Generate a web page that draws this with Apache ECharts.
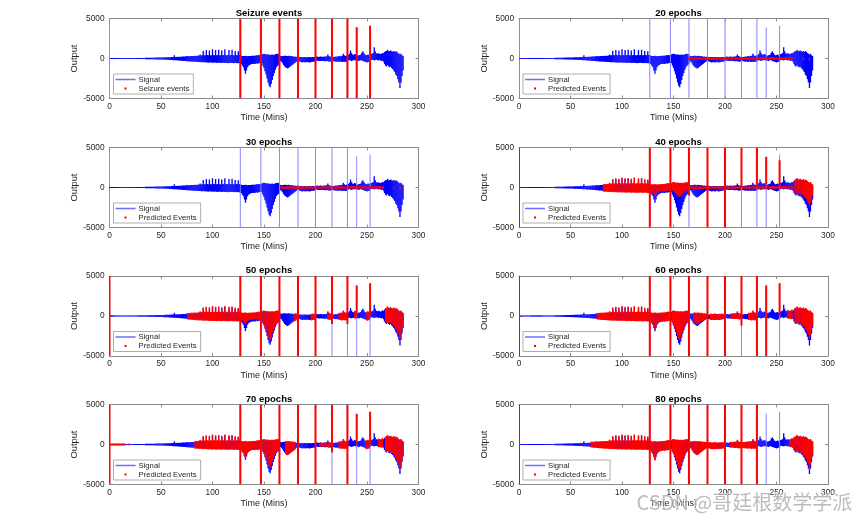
<!DOCTYPE html>
<html>
<head>
<meta charset="utf-8">
<script src="https://cdn.jsdelivr.net/npm/echarts@6/dist/echarts.min.js"></script>
<style>html,body{margin:0;padding:0;background:#fff}#c{width:865px;height:524px}</style>
</head>
<body>
<div id="c"></div>
<script>
// ---------- DATA ----------
const panelTitles = ['Seizure events','20 epochs','30 epochs','40 epochs','50 epochs','60 epochs','70 epochs','80 epochs'];
const eventNames = ['Seizure events','Predicted Events','Predicted Events','Predicted Events','Predicted Events','Predicted Events','Predicted Events','Predicted Events'];
const xTicks = [0, 50, 100, 150, 200, 250, 300];
const yTicks = [-5000, 0, 5000];

// signal envelope, one value per minute, t = 0..285
const sigHi = [
 50,40,40,40,40,40,40,40,40,40,
 40,45,40,45,40,45,40,45,40,45,
 50,55,50,55,60,55,60,60,65,60,
 65,70,70,75,70,80,80,85,80,90,
 90,95,100,100,110,105,115,120,115,125,
 130,135,140,140,150,150,160,165,160,170,
 180,175,190,400,190,200,210,200,220,230,
 230,240,250,240,260,300,270,280,290,300,
 310,300,320,330,320,340,350,360,500,380,
 400,950,420,400,1050,430,410,1000,420,400,
 1150,430,420,1050,400,430,1100,420,410,1000,
 420,430,1150,400,420,440,1050,410,430,1100,
 420,400,950,430,410,900,440,450,350,300,
 300,320,350,300,280,300,320,300,330,350,
 330,350,380,400,420,450,400,450,500,550,
 600,550,500,520,480,500,450,480,500,450,
 480,520,550,600,550,500,300,280,300,320,
 350,330,300,320,350,300,280,300,250,230,
 250,200,220,250,150,180,200,160,150,180,
 200,170,150,160,180,150,170,200,180,150,
 200,220,250,200,230,250,220,200,250,230,
 250,280,500,300,250,200,220,180,200,220,
 250,230,280,300,250,350,300,600,400,300,
 350,400,450,600,1000,700,500,450,550,500,
 400,350,400,450,500,750,900,700,500,400,
 450,500,400,500,550,600,700,1400,900,650,
 600,650,600,550,600,700,650,800,900,950,
 1100,900,950,1000,900,850,950,800,900,850,
 700,600,500,600,400,300
];
const sigLo = [
 -50,-40,-40,-40,-40,-40,-40,-40,-40,-40,
 -40,-45,-40,-45,-40,-45,-40,-45,-40,-45,
 -50,-55,-50,-55,-60,-55,-60,-60,-65,-60,
 -65,-70,-70,-75,-70,-80,-80,-85,-80,-90,
 -90,-95,-100,-100,-110,-105,-115,-120,-115,-125,
 -130,-140,-140,-150,-150,-160,-170,-170,-180,-190,
 -190,-200,-210,-220,-220,-230,-240,-250,-260,-270,
 -280,-290,-300,-300,-320,-350,-330,-340,-360,-380,
 -380,-400,-390,-420,-400,-430,-440,-450,-430,-460,
 -460,-480,-450,-500,-470,-490,-520,-480,-500,-510,
 -520,-500,-540,-510,-530,-550,-500,-540,-520,-560,
 -540,-520,-560,-530,-550,-580,-540,-560,-530,-570,
 -550,-580,-540,-560,-600,-570,-600,-650,-700,-900,
 -1100,-1500,-1900,-1500,-1100,-900,-800,-750,-700,-700,
 -650,-700,-650,-600,-650,-600,-550,-500,-600,-900,
 -1200,-1600,-2000,-2500,-3000,-3400,-3600,-3200,-2700,-2200,
 -1800,-1400,-1100,-900,-800,-700,-300,-400,-600,-800,
 -1000,-1100,-1200,-1250,-1150,-1050,-950,-850,-750,-650,
 -550,-450,-350,-300,-350,-400,-450,-500,-480,-450,
 -500,-480,-450,-460,-500,-470,-450,-420,-400,-380,
 -300,-250,-280,-300,-320,-300,-280,-300,-320,-350,
 -330,-300,-350,-380,-400,-350,-300,-320,-350,-380,
 -400,-380,-420,-400,-380,-420,-450,-400,-420,-450,
 -400,-350,-250,-200,-250,-300,-250,-220,-200,-250,
 -200,-250,-300,-250,-200,-250,-300,-350,-400,-450,
 -500,-450,-400,-350,-200,-150,-200,-250,-200,-150,
 -200,-250,-200,-250,-300,-250,-400,-700,-900,-1000,
 -800,-1000,-1100,-1000,-1200,-1300,-1500,-1700,-2000,-2200,
 -2600,-3000,-3700,-3000,-2200,-1500
];
// large spikes in the signal: [time, top, bottom]
const signalSpikes = [[0,5000,-5000],[127,5000,-5000],[147,5000,-5000],[165,5000,-5000],[183,5000,-5000],[200,5000,-5000],[216,5000,-5000],[231,5000,-5000],[240,3900,-5000],[253,4100,-5000]];

// red event spikes per panel: [time, top, bottom]
const seizureSpikes = [[127,5000,-5000],[147,5000,-5000],[165,5000,-5000],[183,5000,-5000],[200,5000,-5000],[216,5000,-5000],[231,5000,-5000],[240,3900,-5000],[253,4100,-5000]];
const ep20Spikes = [];
const ep30Spikes = [];
const ep40Spikes = [[0,5000,-5000],[127,5000,-5000],[147,5000,-5000],[165,5000,-1000],[183,5000,-5000],[200,5000,-5000],[216,5000,0],[231,5000,0],[240,3800,400],[253,3400,0]];
const ep50Spikes = [[0,5000,-5000],[127,5000,-5000],[147,5000,-5000],[165,5000,-5000],[183,5000,-5000],[200,5000,-5000],[216,5000,-1000],[231,5000,-1000],[240,3800,0],[253,4100,0]];
const ep60Spikes = [[0,5000,-5000],[127,5000,-5000],[147,5000,-5000],[165,5000,-5000],[183,5000,-5000],[200,5000,-5000],[216,5000,-1200],[231,5000,-5000],[240,3800,-5000],[253,4100,0]];
const ep70Spikes = [[0,5000,-5000],[127,5000,-5000],[147,5000,-5000],[165,5000,-5000],[183,5000,-5000],[200,5000,-5000],[216,5000,-1000],[231,5000,-5000],[240,3800,0],[253,4100,0]];
const ep80Spikes = [[0,5000,-5000],[127,5000,-5000],[147,5000,-5000],[165,5000,-5000],[183,5000,-5000],[200,5000,-5000],[216,5000,-5000],[231,5000,-5000]];

// red event stretches per panel: [start, end, share of upper envelope, share of lower envelope]
const seizureBands = [];
const ep20Bands = [[0,0,0.05,0.05],[165,265,0.05,0.05],[276,276,0.05,0.05],[282,282,0.05,0.05]];
const ep30Bands = [[0,0,0.05,0.05],[166,266,0.05,0.05],[276,276,0.05,0.05],[282,282,0.05,0.05]];
const ep40Bands = [[82,127,1,1],[128,146,1,0.5],[149,164,1,0.3],[166,182,0.1,0.1],[184,199,0.1,0.1],[201,215,0.1,0.1],[217,230,0.1,0.1],[232,266,0.1,0.1],[268,285,1,0.6]];
const ep50Bands = [[76,127,1,1],[128,146,1,0.5],[149,164,1,0.8],[180,182,1,1],[196,199,1,1],[212,215,1,1],[223,230,1,1],[238,239,1,1],[250,252,1,1],[268,285,1,0.75]];
const ep60Bands = [[76,127,1,1],[128,146,1,0.85],[149,164,1,0.8],[170,182,1,0.7],[186,199,1,0.7],[206,215,1,0.8],[223,230,1,1],[261,265,1,1],[268,285,1,0.75]];
const ep70Bands = [[0,15,0.5,0.5],[19,19,0.5,0.5],[83,127,1,1],[128,146,1,0.85],[149,164,1,0.75],[171,180,1,1],[204,215,0.5,0.5],[223,230,1,1],[249,252,1,1],[261,265,1,1],[268,285,1,0.8]];
const ep80Bands = [[70,127,1,1],[128,146,1,1],[149,164,1,0.85],[166,182,1,1],[184,199,1,1],[205,215,1,1],[217,230,1,1],[263,285,1,0.8]];

const panelSpikes = [seizureSpikes, ep20Spikes, ep30Spikes, ep40Spikes, ep50Spikes, ep60Spikes, ep70Spikes, ep80Spikes];
const panelBands = [seizureBands, ep20Bands, ep30Bands, ep40Bands, ep50Bands, ep60Bands, ep70Bands, ep80Bands];

// ---------- BUILD ----------
const FONT = 'Liberation Sans';
const AX = '#8a8a8a';
const TXT = '#262626';
const colLeft = [109.5, 519];
const rowTop = [18.5, 147.5, 276, 404.5];
const PW = 309, PH = 80;

const bandData = sigHi.map((h, t) => [t, sigLo[t], h]);
const spikeData = signalSpikes.map(s => [s[0], s[2], s[1]]);

function renderBand(color, minHalf, pad) {
  return function (params, api) {
    const t = api.value(0);
    const lo = api.value(1), hi = api.value(2);
    const p1 = api.coord([t - 0.5, hi]);
    const p2 = api.coord([t + 0.5, lo]);
    let y1 = p1[1] - pad, y2 = p2[1] + pad;
    if (y2 - y1 < minHalf * 2) { const c = (y1 + y2) / 2; y1 = c - minHalf; y2 = c + minHalf; }
    return { type: 'rect', shape: { x: p1[0] - 0.15, y: y1, width: p2[0] - p1[0] + 0.3, height: y2 - y1 }, style: { fill: color } };
  };
}
function renderSpike(color, w) {
  return function (params, api) {
    const t = api.value(0);
    const a = api.coord([t, api.value(2)]);
    const b = api.coord([t, api.value(1)]);
    return { type: 'line', shape: { x1: a[0], y1: a[1], x2: b[0], y2: b[1] }, style: { stroke: color, lineWidth: w } };
  };
}

const grids = [], xAxes = [], yAxes = [], series = [], titles = [], legends = [];
const lineIcon = 'path://M0,0H20V0.01H0Z M0,8.99H20V9H0Z M0,3.8H20V5.2H0Z';
const dotIcon = 'path://M0,0H20V0.01H0Z M0,8.99H20V9H0Z M9,3.5H11V5.5H9Z';

const axisBase = (extra) => Object.assign({
  type: 'value',
  axisLine: { show: true, onZero: false, lineStyle: { color: AX, width: 1 } },
  axisTick: { show: true, inside: true, length: 3, lineStyle: { color: AX } },
  splitLine: { show: false }
}, extra);

for (let i = 0; i < 8; i++) {
  const col = i % 2, row = Math.floor(i / 2);
  const L = colLeft[col], T = rowTop[row];
  grids.push({ left: L, top: T, width: PW, height: PH, show: false });
  xAxes.push(axisBase({
    gridIndex: i, min: 0, max: 300, interval: 50, position: 'bottom',
    axisLabel: { color: TXT, fontSize: 8.3, fontFamily: FONT, margin: 4, formatter: v => xTicks.includes(v) ? String(v) : '' },
    name: 'Time (Mins)', nameLocation: 'middle', nameGap: 15,
    nameTextStyle: { color: TXT, fontSize: 9, fontFamily: FONT }
  }));
  yAxes.push(axisBase({
    gridIndex: i, min: -5000, max: 5000, interval: 5000, position: 'left',
    axisLabel: { color: TXT, fontSize: 8.3, fontFamily: FONT, margin: 5, formatter: v => yTicks.includes(v) ? String(v) : '' },
    name: 'Output', nameLocation: 'middle', nameGap: 26,
    nameTextStyle: { color: TXT, fontSize: 9.3, fontFamily: FONT }
  }));
  titles.push({
    text: panelTitles[i], left: L + PW / 2, top: T - 15.5, textAlign: 'center',
    textStyle: { fontSize: 9.5, fontWeight: 'bold', color: '#000', fontFamily: FONT }
  });
  const evName = eventNames[i];
  legends.push({
    orient: 'vertical', left: L + 4, top: T + 55.5, selectedMode: false,
    padding: [1, 4, 1, 2], itemGap: 0, itemWidth: 20, itemHeight: 9,
    backgroundColor: '#fff', borderColor: '#8c8c8c', borderWidth: 0.7,
    textStyle: { fontSize: 7.7, fontFamily: FONT, color: TXT, padding: [0, 0, 0, -2] },
    itemStyle: { borderWidth: 0, borderColor: 'transparent' },
    data: [
      { name: 'Signal', icon: lineIcon, itemStyle: { color: '#6e6eff', borderWidth: 0, borderColor: 'transparent' } },
      { name: evName, icon: dotIcon, itemStyle: { color: '#ff0000', borderWidth: 0, borderColor: 'transparent' } }
    ]
  });
  series.push({
    type: 'custom', name: 'Signal', xAxisIndex: i, yAxisIndex: i, clip: true,
    itemStyle: { color: '#6e6eff' }, encode: { x: 0, y: [1, 2] },
    renderItem: renderBand('#0000ff', 0.6, 0), data: bandData, z: 2
  });
  series.push({
    type: 'custom', name: 'Signal', xAxisIndex: i, yAxisIndex: i, clip: true,
    itemStyle: { color: '#6e6eff' }, encode: { x: 0, y: [1, 2] },
    renderItem: renderSpike('#8585ff', 1), data: spikeData, z: 3
  });
  const redBand = [];
  panelBands[i].forEach(b => {
    for (let t = b[0]; t <= b[1]; t++) redBand.push([t, sigLo[t] * b[3], sigHi[t] * b[2]]);
  });
  series.push({
    type: 'custom', name: evName, xAxisIndex: i, yAxisIndex: i, clip: true,
    itemStyle: { color: '#ff0000' }, encode: { x: 0, y: [1, 2] },
    renderItem: renderBand('#ff0000', 1.1, 0.8), data: redBand, z: 4
  });
  series.push({
    type: 'custom', name: evName, xAxisIndex: i, yAxisIndex: i, clip: true,
    itemStyle: { color: '#ff0000' }, encode: { x: 0, y: [1, 2] },
    renderItem: renderSpike('#ff0000', 2), data: panelSpikes[i].map(s => [s[0], s[2], s[1]]), z: 5
  });
}
for (let i = 0; i < 8; i++) {
  xAxes.push(axisBase({ gridIndex: i, min: 0, max: 300, interval: 50, position: 'top', axisLabel: { show: false } }));
  yAxes.push(axisBase({ gridIndex: i, min: -5000, max: 5000, interval: 5000, position: 'right', axisLabel: { show: false } }));
}

const chart = echarts.init(document.getElementById('c'), null, { renderer: 'canvas' });
chart.setOption({
  animation: false,
  backgroundColor: '#fff',
  title: titles,
  legend: legends,
  grid: grids,
  xAxis: xAxes,
  yAxis: yAxes,
  series: series,
  graphic: [{
    type: 'text', left: 636, top: 492, z: 100,
    style: { text: 'CSDN @哥廷根数学学派', font: '20px "Noto Sans CJK SC"', fill: 'rgba(120,120,120,0.5)', stroke: 'rgba(255,255,255,0.8)', lineWidth: 1 }
  }]
});
</script>
</body>
</html>
